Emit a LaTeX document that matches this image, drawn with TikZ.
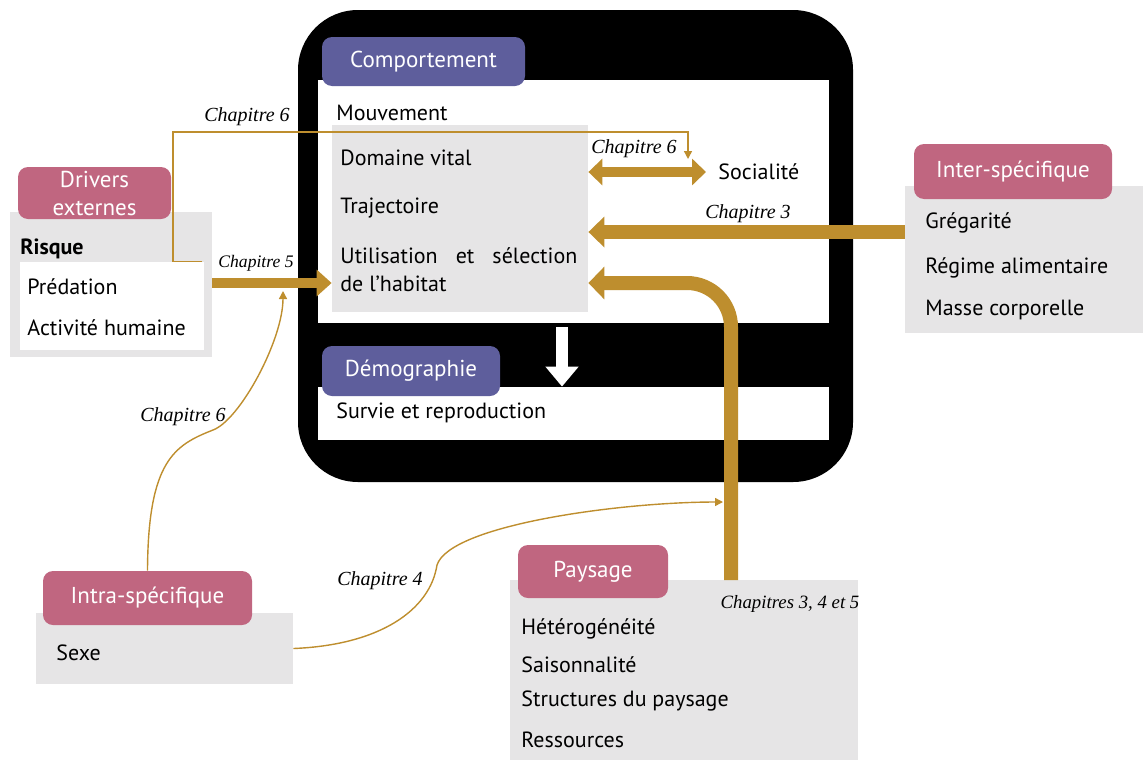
\documentclass[tikz,border=0pt]{standalone}
\usepackage{fontspec}
\setmainfont{PT Sans}
\newfontfamily\chapfont{Liberation Serif}
\usetikzlibrary{arrows.meta}
\definecolor{gold}{RGB}{190,142,46}
\definecolor{purplec}{RGB}{94,94,156}
\definecolor{pinkc}{RGB}{192,102,128}
\definecolor{boxgrey}{RGB}{230,229,230}
\begin{document}
\begin{tikzpicture}[x=0.5pt,y=-0.5pt,
every node/.style={font=\fontsize{11}{14}\selectfont},
blackbox/.style={fill=black,rounded corners=30pt,inner sep=0},
panel/.style={fill=white,inner sep=0},
greybox/.style={fill=boxgrey,inner sep=0},
header/.style={fill=pinkc,rounded corners=5pt,text=white,inner sep=0,align=center,font=\fontsize{11.5}{14}\selectfont},
behheader/.style={header,fill=purplec},
item/.style={anchor=west,inner sep=0},
chap/.style={font=\chapfont\itshape\fontsize{10}{11}\selectfont,inner sep=0},
bigarrow/.style={draw=gold,line width=7pt,-{Triangle[width=15pt,length=8pt]}},
thinarrow/.style={draw=gold,line width=0.7pt,-{Triangle[width=4pt,length=4pt]}}]

\useasboundingbox (0,0) rectangle (1143,760);

% comportement et demographie
\node[blackbox,minimum width=277.5pt,minimum height=236pt] (beh) at (575.5,246) {};
\node[panel,minimum width=255.5pt,minimum height=121.5pt] (comppanel) at (573.5,201.5) {};
\node[panel,minimum width=255.5pt,minimum height=26.5pt] (demopanel) at (573.5,413.5) {};
\node[greybox,minimum width=128pt,minimum height=93.5pt] (movbox) at (460,218.5) {};
\node[behheader,minimum width=101.5pt,minimum height=24.5pt] (comp) at (423.5,61.5) {Comportement};
\node[behheader,minimum width=89pt,minimum height=25pt] (demo) at (411,371) {Démographie};

\node[item] (mouv) at (336,113) {Mouvement};
\node[item] (dom) at (340,158) {Domaine vital};
\node[item] (traj) at (340,208) {Trajectoire};
\node[item,align=left] (hab) at (340,270) {\makebox[118.5pt][s]{Utilisation et sélection}\\de l’habitat};
\node[item] (soc) at (718,172) {Socialité};
\node[item] (surv) at (336,413) {Survie et reproduction};

% drivers externes
\node[greybox,minimum width=101pt,minimum height=72.5pt] (drvgrey) at (111,284.5) {};
\node[panel,minimum width=92pt,minimum height=44pt] (drvwhite) at (112,306) {};
\node[header,minimum width=76.5pt,minimum height=26pt] (drv) at (94.5,193) {Drivers\\externes};
\node[item,font=\fontsize{11}{14}\selectfont\bfseries] (risk) at (20,249) {Risque};
\node[item] (pred) at (27,287) {Prédation};
\node[item] (hum) at (27,328) {Activité humaine};

% inter-specifique
\node[greybox,minimum width=119pt,minimum height=73.5pt] (intergrey) at (1024,259.5) {};
\node[header,minimum width=99pt,minimum height=27.5pt] (inter) at (1013,171.5) {Inter-spécifique};
\node[item] (greg) at (925,223) {Grégarité};
\node[item] (reg) at (925,268) {Régime alimentaire};
\node[item] (masse) at (925,310) {Masse corporelle};

% intra-specifique
\node[greybox,minimum width=128.5pt,minimum height=35.5pt] (intragrey) at (164.5,648.5) {};
\node[header,minimum width=104.5pt,minimum height=27pt] (intra) at (147.5,598) {Intra-spécifique};
\node[item] (sexe) at (56,653) {Sexe};

% paysage
\node[greybox,minimum width=174pt,minimum height=90pt] (paygrey) at (684,670) {};
\node[header,minimum width=75pt,minimum height=26.5pt] (pay) at (593,571.5) {Paysage};
\node[item] (het) at (521,629) {Hétérogénéité};
\node[item] (sais) at (521,665) {Saisonnalité};
\node[item] (struct) at (521,701) {Structures du paysage};
\node[item] (res) at (521,740) {Ressources};

\coordinate (habit) at (332,283);
\coordinate (c3) at (0,232);
\coordinate (paycol) at (731,580);
\coordinate (c5tip) at (283,291);
\coordinate (c4tip) at (723,502);
\coordinate (soctip) at (688,159);
\coordinate (dn) at (562,0);

% fleches
\draw[bigarrow,line width=5pt,-{Triangle[width=13pt,length=7.5pt]}] (drvgrey.east |- habit) -- (movbox.west |- habit);
\draw[bigarrow] (intergrey.west |- c3) -- (movbox.east |- c3);
\draw[bigarrow,rounded corners=22pt,-{Triangle[width=16pt,length=8pt]}] (paycol) |- (movbox.east |- habit);
\draw[draw=gold,line width=5pt,{Triangle[width=13pt,length=7pt]}-{Triangle[width=13pt,length=7pt]}] (movbox.east |- soc) -- ([xshift=-6pt]soc.west);
\draw[draw=white,line width=6pt,-{Triangle[width=16pt,length=10pt]},shorten <=2pt] (comppanel.south -| dn) -- (demopanel.north -| dn);

\draw[thinarrow] ([xshift=-1pt]drvwhite.north east) -| (173,132) -| (soctip);
\draw[thinarrow] (intra.north) .. controls (148,460) and (175,445) .. (213,430) .. controls (240,420) and (283,340) .. (c5tip);
\draw[thinarrow] (intragrey.east) .. controls (380,645) and (430,610) .. (437,565) .. controls (450,525) and (620,502) .. (c4tip);

% etiquettes
\node[chap] (l6a) at (247,117) {Chapitre 6};
\node[chap,font=\chapfont\itshape\fontsize{8.8}{10}\selectfont] (l5) at (256,263) {Chapitre 5};
\node[chap] (l6b) at (634,149) {Chapitre 6};
\node[chap] (l3) at (748,214) {Chapitre 3};
\node[chap] (l6c) at (183,417) {Chapitre 6};
\node[chap] (l4) at (380,581) {Chapitre 4};
\node[chap,font=\chapfont\itshape\fontsize{9.4}{10}\selectfont] (l345) at (790,604) {Chapitres 3, 4 et 5};
\end{tikzpicture}
\end{document}
